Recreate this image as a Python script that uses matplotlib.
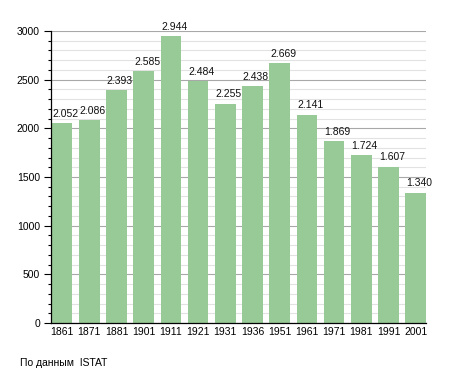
import numpy as np
import matplotlib.pyplot as plt
from matplotlib.ticker import MultipleLocator

years = ['1861', '1871', '1881', '1901', '1911', '1921', '1931',
         '1936', '1951', '1961', '1971', '1981', '1991', '2001']
population = [2052, 2086, 2393, 2585, 2944, 2484, 2255,
              2438, 2669, 2141, 1869, 1724, 1607, 1340]
value_labels = ['2.052', '2.086', '2.393', '2.585', '2.944', '2.484', '2.255',
                '2.438', '2.669', '2.141', '1.869', '1.724', '1.607', '1.340']

plt.rcParams['font.family'] = ['Liberation Sans', 'DejaVu Sans']

fig = plt.figure(figsize=(4.55, 3.73), dpi=100)
ax = fig.add_axes([51/455, 1 - 323/373, 375/455, 292/373])

x = np.arange(len(years))
w = 0.76
ax.bar(x, population, width=w, color='#98ca97', zorder=2)

# value labels sit left-aligned on top of each bar
for xi, v, lab in zip(x, population, value_labels):
    ax.annotate(lab, (xi - w/2, v), xytext=(0.5, 3), textcoords='offset points',
                ha='left', va='bottom', fontsize=7.5, color='#111111', zorder=3)

ax.set_xlim(-w/2 - 0.03, len(years) - 1 + w/2)
ax.set_ylim(0, 3000)
ax.set_xticks(x)
ax.set_xticklabels(years, fontsize=7.5)
ax.tick_params(axis='x', length=0, pad=3)

ax.yaxis.set_major_locator(MultipleLocator(500))
ax.yaxis.set_minor_locator(MultipleLocator(100))
ax.tick_params(axis='y', which='major', length=5, width=0.8, labelsize=7.5, pad=3)
ax.tick_params(axis='y', which='minor', length=2.5, width=0.8)

ax.grid(axis='y', which='major', color='#a8a8a8', linewidth=0.8, zorder=1)
ax.grid(axis='y', which='minor', color='#e2e2e2', linewidth=0.8, zorder=1)

for s in ['top', 'right']:
    ax.spines[s].set_visible(False)
ax.spines['left'].set_linewidth(0.9)
ax.spines['bottom'].set_linewidth(0.9)

fig.text(20/455, 1 - 363/373, 'По данным  ISTAT', fontsize=7.5, va='center', ha='left')

fig.savefig('out.png', dpi=100)
